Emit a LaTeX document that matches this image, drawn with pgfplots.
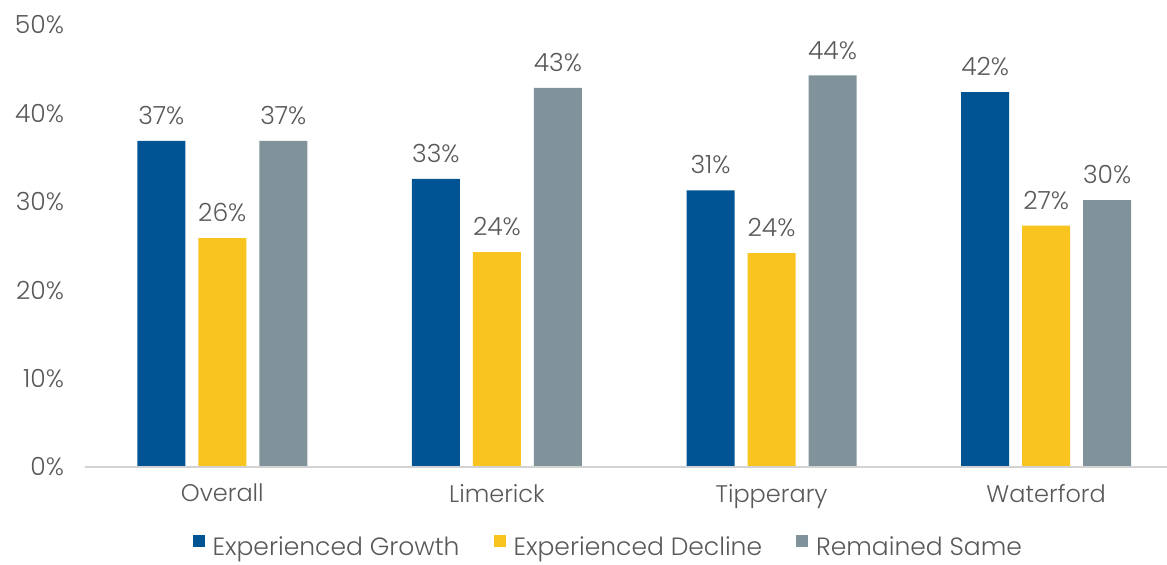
\documentclass[border=0pt]{standalone}
\usepackage{pgfplots}
\pgfplotsset{compat=1.18}
\usepackage{fontspec}
\IfFontExistsTF{Poppins Light}{\setmainfont{Poppins Light}}{\setmainfont{Poppins}}
\definecolor{cblue}{RGB}{0,84,147}
\definecolor{cyellow}{RGB}{250,196,32}
\definecolor{cgrey}{RGB}{128,147,155}
\definecolor{ctext}{RGB}{89,89,89}
\definecolor{caxis}{RGB}{210,210,210}
\begin{document}
\begin{tikzpicture}
\begin{axis}[
  scale only axis,
  width=541pt, height=221pt,
  ybar=6.5pt, bar width=24pt,
  xmin=-0.5, xmax=3.44,
  ymin=0, ymax=50,
  xtick={0,1,2,3},
  xticklabels={Overall,Limerick,Tipperary,Waterford},
  ytick={0,10,20,30,40,50},
  yticklabel={\pgfmathprintnumber{\tick}\%},
  /pgf/number format/assume math mode=true,
  axis x line*=bottom,
  axis y line*=left,
  axis line style={draw=none},
  major tick length=0pt,
  tick style={draw=none},
  every tick label/.append style={font=\fontsize{12.5}{14}\selectfont, text=ctext},
  y tick label style={anchor=east, xshift=-7pt},
  x tick label style={yshift=-5pt, font=\fontsize{12}{14}\selectfont},
  nodes near coords={\pgfmathprintnumber[fixed,precision=0]{\pgfplotspointmeta}\%},
  every node near coord/.append style={font=\fontsize{12.5}{14}\selectfont, text=ctext, yshift=4.5pt},
  legend columns=3,
  legend style={at={(0.4845,-0.182)}, anchor=center, draw=none, fill=none,
    font=\fontsize{12.5}{14}\selectfont, text=ctext,
    /tikz/every even column/.append style={column sep=15pt}},
  legend image code/.code={\fill[#1] (0pt,0pt) rectangle (6pt,6pt);},
  clip=false,
]
\addplot[draw=none, fill=cblue] coordinates {(0,36.9) (1,32.6) (2,31.3) (3,42.4)};
\addplot[draw=none, fill=cyellow] coordinates {(0,25.9) (1,24.3) (2,24.2) (3,27.3)};
\addplot[draw=none, fill=cgrey] coordinates {(0,36.9) (1,42.9) (2,44.3) (3,30.2)};
\legend{\hspace{2pt}Experienced Growth, \hspace{2pt}Experienced Decline, \hspace{2pt}Remained Same}
\draw[caxis, line width=1pt] (rel axis cs:0,0) -- (rel axis cs:1,0);
\end{axis}
\pgfresetboundingbox
\path[use as bounding box] (-42.5pt,-48.5pt) rectangle (541pt,233.5pt);
\end{tikzpicture}
\end{document}
